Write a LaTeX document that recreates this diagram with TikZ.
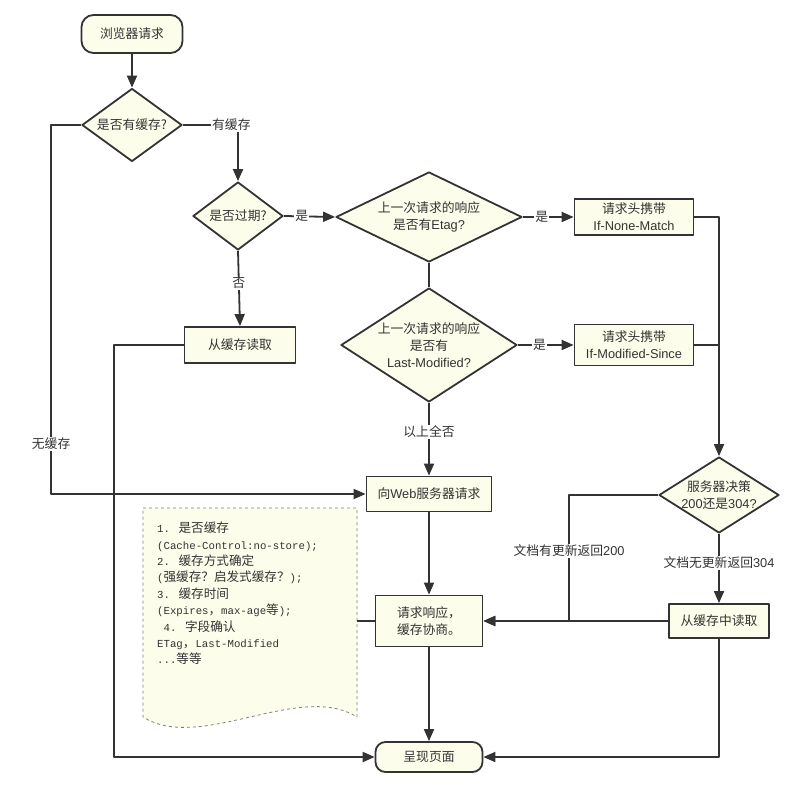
\documentclass[tikz,border=0pt]{standalone}
\usepackage{fontspec}
\setmainfont{Noto Sans CJK SC}
\newfontfamily\lat{Liberation Sans}
\newfontfamily\mono[Scale=0.85]{Liberation Mono}
\usetikzlibrary{shapes.geometric,arrows.meta}
\definecolor{boxfill}{RGB}{253,253,235}
\definecolor{ink}{RGB}{51,51,51}
\begin{document}
\begin{tikzpicture}[x=1pt, y=-1pt, line join=round, text=ink, font=\fontsize{12.8}{17}\selectfont,
	box/.style={draw=ink, fill=boxfill, line width=1.8pt, inner sep=0pt, align=center},
	term/.style={box, rounded corners=12pt},
	dec/.style={box, diamond, inner sep=-4pt},
	lab/.style={fill=white, inner sep=1pt},
	ln/.style={draw=ink, line width=1.8pt},
	arr/.style={ln, -{Triangle[length=12pt,width=10pt]}}]
	\useasboundingbox (0,0) rectangle (809,789);
	\fill[white] (0,0) rectangle (809,789);
	% shapes
	\node[term, minimum width=101pt, minimum height=38pt] (start) at (132,34) {浏览器请求};
	\node[dec, minimum width=100pt, minimum height=73pt, aspect=1.37] (cache) at (132,125) {是否有缓存?};
	\node[dec, minimum width=90pt, minimum height=68pt, aspect=1.32] (expire) at (238,216) {是否过期?};
	\node[dec, minimum width=186pt, minimum height=90pt, aspect=2.07] (etag) at (429,217) {上一次请求的响应\\是否有{\lat Etag?}};
	\node[dec, minimum width=176pt, minimum height=114pt, aspect=1.54] (lastmod) at (429,345) {上一次请求的响应\\是否有\\{\lat Last-Modified?}};
	\node[box, minimum width=119pt, minimum height=36pt] (nonematch) at (634,217) {请求头携带\\{\lat If-None-Match}};
	\node[box, minimum width=119pt, minimum height=41pt] (modsince) at (634,345) {请求头携带\\{\lat If-Modified-Since}};
	\node[box, minimum width=111pt, minimum height=36pt] (readcache) at (240,345) {从缓存读取};
	\node[box, minimum width=125pt, minimum height=35pt] (web) at (429,494) {向{\lat Web}服务器请求};
	\node[dec, minimum width=120pt, minimum height=76pt, aspect=1.58, inner sep=-9pt] (server) at (719,495) {服务器决策\\{\lat 200}还是{\lat 304?}};
	\node[box, minimum width=100pt, minimum height=34pt] (fromcache) at (719,621) {从缓存中读取};
	\node[box, minimum width=107pt, minimum height=51pt] (resp) at (429,621) {请求响应，\\缓存协商。};
	\node[term, minimum width=107pt, minimum height=30pt, rounded corners=10pt] (show) at (429,757) {呈现页面};
	% note
	\draw[gray, dashed, line width=0.8pt, fill=boxfill] (143,508) -- (357,508) -- (357,717)
		.. controls (300,681) and (200,753) .. (143,717) -- cycle;
	\coordinate (noteR) at (357,621);
	\node[anchor=north west, inner sep=0pt, align=left, font=\fontsize{12.6}{16.4}\selectfont] (notetext) at (157,522) {%
		{\mono 1. }是否缓存\\
		{\mono (Cache-Control:no-store);}\\
		{\mono 2. }缓存方式确定\\
		{\mono (}强缓存？启发式缓存？{\mono );}\\
		{\mono 3. }缓存时间\\
		{\mono (Expires}，{\mono max-age}等{\mono );}\\
		{\mono\phantom{0}4. }字段确认\\
		{\mono ETag}，{\mono Last-Modified}\\
		{\mono ...}等等};
	% connectors
	\draw[arr] (start) -- (cache);
	\draw[arr] (cache.east) -| node[lab, pos=0.44]{有缓存} (expire.north);
	\draw[arr] (cache.west) -- ++(-30,0) |- node[lab, pos=0.432]{无缓存} (web.west);
	\draw[arr] (expire.east) -- node[lab, pos=0.35]{是} (etag.west);
	\draw[arr] (expire.south) -- node[lab, pos=0.43]{否} (readcache.north);
	\draw[ln] (etag.south) -- (lastmod.north);
	\draw[arr] (etag.east) -- node[lab, pos=0.37]{是} (nonematch.west);
	\draw[arr] (lastmod.east) -- node[lab, pos=0.39]{是} (modsince.west);
	\draw[arr] (lastmod.south) -- node[lab, pos=0.4]{以上全否} (web.north);
	\draw[arr] (nonematch.east) -| (server.north);
	\draw[ln] (modsince.east) -- (modsince.east -| server.north);
	\draw[arr] (readcache.west) -- ++(-70,0) |- (show.west);
	\draw[arr] (web) -- (resp);
	\draw[ln] (noteR) -- (resp.west);
	\draw[arr] (resp) -- (show);
	\draw[arr] (server.south) -- node[lab, pos=0.42]{文档无更新返回{\lat 304}} (fromcache.north);
	\draw[arr] (server.west) -- ++(-89,0) |- node[lab, pos=0.222]{文档有更新返回{\lat 200}} (resp.east);
	\draw[arr] (fromcache) -- (resp);
	\draw[arr] (fromcache.south) |- (show.east);
\end{tikzpicture}
\end{document}
